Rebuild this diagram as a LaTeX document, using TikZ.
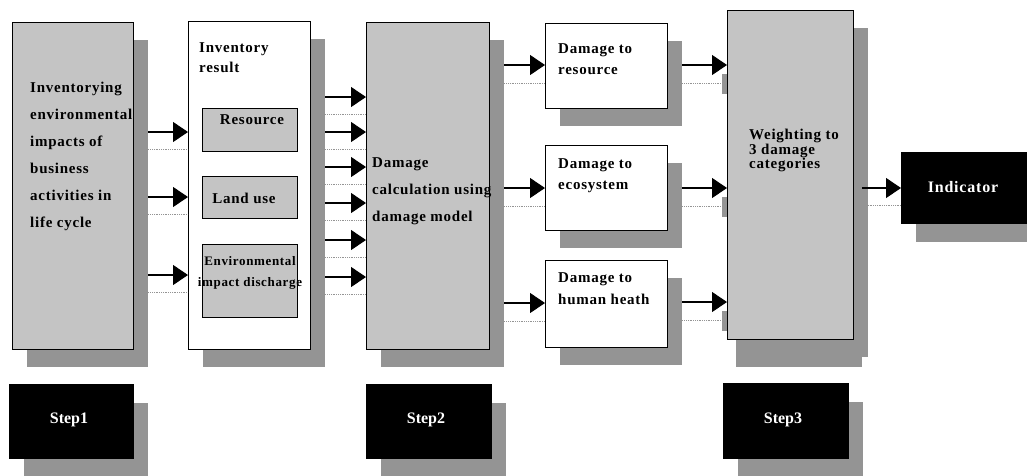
\documentclass[tikz,border=0pt]{standalone}
\usepackage{fontspec}
\setmainfont{Liberation Serif}[BoldFont={Liberation Serif Bold}]
\newfontfamily\lblfont{Liberation Serif Bold}[LetterSpace=5]
\newfontfamily\stepfont{Liberation Serif Bold}
\usetikzlibrary{arrows.meta,shadows}

\definecolor{panel}{RGB}{196,196,196}
\definecolor{shade}{RGB}{148,148,148}

\tikzset{
  x=1pt, y=-1pt,
  base/.style={draw=black, line width=1.4pt, inner sep=0pt, anchor=north west},
  panelbox/.style={base, fill=panel,
    general shadow={fill=shade, shadow xshift=14pt, shadow yshift=-17pt}},
  whitebox/.style={base, fill=white,
    general shadow={fill=shade, shadow xshift=14pt, shadow yshift=-17pt}},
  innerbox/.style={base, line width=1.2pt, fill=panel},
  blackbox/.style={base, fill=black, draw=black,
    general shadow={fill=shade, shadow xshift=14pt, shadow yshift=-18pt}},
  txt/.style={inner sep=0pt, anchor=north west, align=left,
    font=\lblfont\fontsize{15}{27}\selectfont},
  steptxt/.style={inner sep=0pt, text=white,
    font=\stepfont\fontsize{16}{18}\selectfont},
  arr/.style={line width=1.1pt, -{Triangle[length=15pt, width=20pt]}},
  ghost/.style={draw=shade, line width=0.8pt, densely dotted},
  tab/.style={fill=shade, draw=none}
}

\begin{document}
\begin{tikzpicture}
\useasboundingbox (0,0) rectangle (1027,475);

% ---- main column boxes ----
\node[panelbox, minimum width=121pt, minimum height=327pt] (inv) at (12,22) {};
\node[whitebox, minimum width=122pt, minimum height=328pt] (ires) at (188,21) {};
\node[panelbox, minimum width=123pt, minimum height=327pt] (calc) at (366,22) {};
\node[panelbox, minimum width=126pt, minimum height=329pt,
      general shadow={fill=shade, shadow xshift=8pt, shadow yshift=-27pt}] (wgt) at (727,10) {};

% ---- inventory sub-boxes ----
\node[innerbox, minimum width=95pt, minimum height=43pt] (resource) at (202,108) {};
\node[innerbox, minimum width=95pt, minimum height=42pt] (landuse) at (202,176) {};
\node[innerbox, minimum width=95pt, minimum height=73pt] (envd) at (202,244) {};

% ---- damage boxes ----
\node[whitebox, minimum width=122pt, minimum height=85pt] (dres) at (545,23) {};
\node[whitebox, minimum width=122pt, minimum height=85pt] (deco) at (545,145) {};
\node[whitebox, minimum width=122pt, minimum height=87pt] (dhum) at (545,260) {};

% ---- result and step boxes ----
\node[blackbox, minimum width=126pt, minimum height=71pt] (ind) at (901,152) {};
\node[blackbox, minimum width=124pt, minimum height=74pt] (s1) at (9,384) {};
\node[blackbox, minimum width=125pt, minimum height=74pt] (s2) at (366,384) {};
\node[blackbox, minimum width=125pt, minimum height=75pt] (s3) at (723,383) {};

% ---- texts ----
\node[txt] (tinv) at (30,82) {Inventorying\\environmental\\impacts of\\business\\activities in\\life cycle};
\node[txt, font=\lblfont\fontsize{15}{20}\selectfont] (tires) at (199,42) {Inventory\\result};
\node[txt, anchor=center] (tresource) at (252,120) {Resource};
\node[txt, anchor=center] (tlanduse) at (244,198) {Land use};
\node[txt, anchor=north, align=center, font=\lblfont\fontsize{13}{21}\selectfont] (tenvd) at (250,256) {Environmental\\impact discharge};
\node[txt] (tcalc) at (372,157) {Damage\\calculation using\\damage model};
\node[txt, font=\lblfont\fontsize{15}{21}\selectfont] (tdres) at (558,43) {Damage to\\resource};
\node[txt, font=\lblfont\fontsize{15}{21}\selectfont] (tdeco) at (558,158) {Damage to\\ecosystem};
\node[txt, font=\lblfont\fontsize{15}{22}\selectfont] (tdhum) at (558,272) {Damage to\\human heath};
\node[txt, font=\lblfont\fontsize{15}{14.5}\selectfont] (twgt) at (749,129) {Weighting to\\3 damage\\categories};
\node[steptxt, font=\lblfont\fontsize{16}{18}\selectfont] (tind) at (963,187) {Indicator};
\node[steptxt] (ts1) at (69,420) {Step1};
\node[steptxt] (ts2) at (426,420) {Step2};
\node[steptxt] (ts3) at (783,420) {Step3};

% ---- connectors: inventory -> inventory result ----
\foreach \y in {132,197,275}{
  \draw[ghost] ([xshift=14pt]inv.east |- 0,\y+17) -- (ires.west |- 0,\y+17);
  \draw[arr] ([xshift=14pt]inv.east |- 0,\y) -- (ires.west |- 0,\y);
}
% ---- inventory result -> damage calculation ----
\foreach \y in {97,132,167,203,240,277}{
  \draw[ghost] ([xshift=14pt]ires.east |- 0,\y+17) -- (calc.west |- 0,\y+17);
  \draw[arr] ([xshift=14pt]ires.east |- 0,\y) -- (calc.west |- 0,\y);
}
% ---- damage calculation -> damage categories ----
\foreach \y/\t in {65/dres,188/deco,303/dhum}{
  \draw[ghost] ([xshift=14pt]calc.east |- 0,\y+18) -- (\t.west |- 0,\y+18);
  \draw[arr] ([xshift=14pt]calc.east |- 0,\y) -- (\t.west |- 0,\y);
}
% ---- damage categories -> weighting ----
\foreach \y/\s in {65/dres,188/deco,302/dhum}{
  \draw[ghost] ([xshift=14pt]\s.east |- 0,\y+18) -- (wgt.west |- 0,\y+18);
  \draw[arr] ([xshift=14pt]\s.east |- 0,\y) -- (wgt.west |- 0,\y);
  \fill[tab] ([xshift=-5pt]wgt.west |- 0,\y+9) rectangle (wgt.west |- 0,\y+29);
}
% ---- weighting -> indicator ----
\draw[ghost] ([xshift=8pt]wgt.east |- 0,205) -- (ind.west |- 0,205);
\draw[arr] ([xshift=8pt]wgt.east |- 0,188) -- (ind.west |- 0,188);
\end{tikzpicture}
\end{document}
